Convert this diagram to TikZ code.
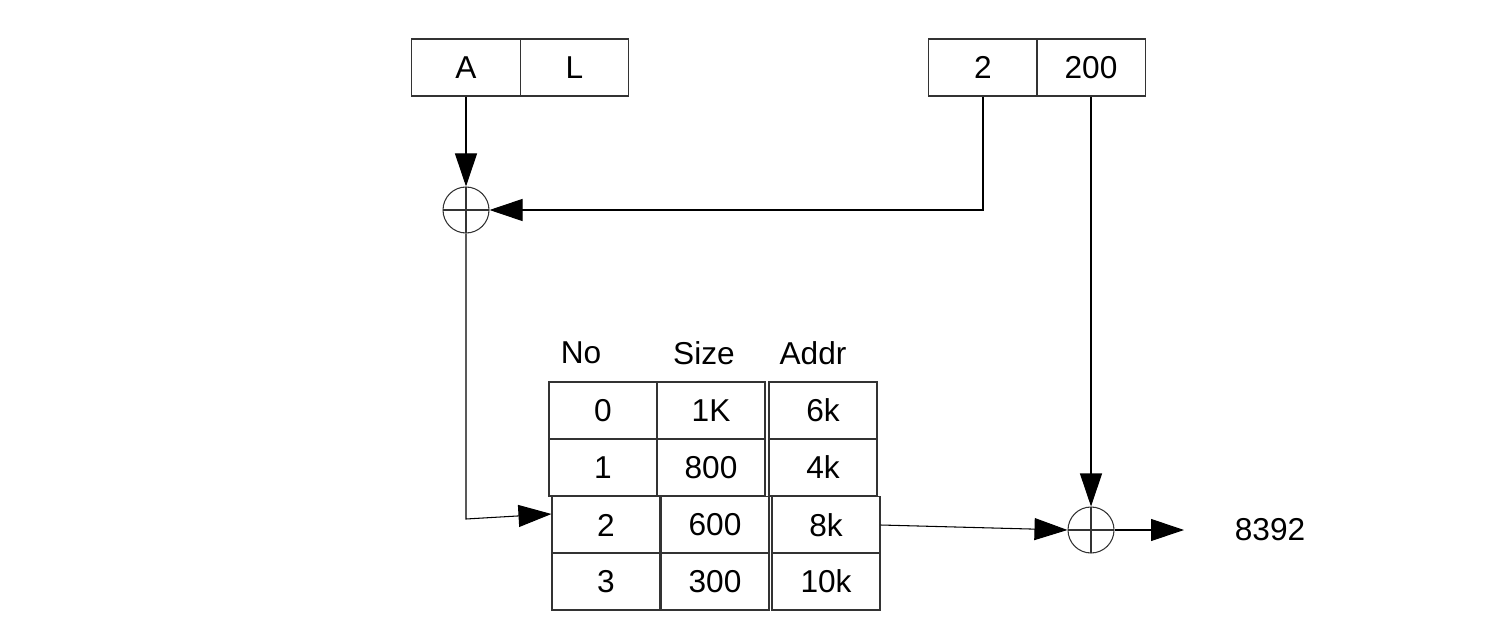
\documentclass[tikz,border=0pt]{standalone}
\usepackage{fontspec}
\setmainfont{Liberation Sans}
\usepackage{tikz}
\usetikzlibrary{arrows.meta, positioning, calc}

\begin{document}
\begin{tikzpicture}[
    every node/.style={font=\fontsize{18}{21}\selectfont},
    cell/.style={draw=black!80, line width=0.6pt, minimum width=2.16cm, minimum height=1.14cm, inner sep=0pt},
    seg/.style={cell, minimum width=2.17cm},
    adder/.style={circle, draw=black!80, line width=0.6pt, minimum size=0.92cm, inner sep=0pt,
      path picture={\draw[black!80, line width=0.6pt]
        (path picture bounding box.north) -- (path picture bounding box.south)
        (path picture bounding box.west) -- (path picture bounding box.east);}},
    arr/.style={-{Triangle[length=0.66cm, width=0.44cm]}, line width=0.6pt}
  ]
  \useasboundingbox (0,0) rectangle (29.96,12.72);

  %% Logical address registers
  \node[seg] (segA) at (9.32,11.37) {A};
  \node[seg] (segL) at (11.49,11.37) {L};
  \node[seg] (seg2) at (19.66,11.37) {2};
  \node[seg] (off200) at (21.82,11.37) {200};

  %% Adders
  \node[adder] (add1) at (9.32,8.52) {};
  \node[adder] (add2) at (21.82,2.12) {};

  %% Segment table header
  \node (hNo) at (11.62,5.66) {No};
  \node (hSize) at (14.08,5.66) {Size};
  \node (hAddr) at (16.26,5.66) {Addr};

  %% Segment table rows
  \node[cell] (c00) at (12.06,4.51) {0};
  \node[cell] (c01) at (14.22,4.51) {1K};
  \node[cell] (c02) at (16.46,4.51) {6k};
  \node[cell] (c10) at (12.06,3.37) {1};
  \node[cell] (c11) at (14.22,3.37) {800};
  \node[cell] (c12) at (16.46,3.37) {4k};
  \node[cell] (c20) at (12.12,2.22) {2};
  \node[cell] (c21) at (14.30,2.22) {600};
  \node[cell] (c22) at (16.52,2.22) {8k};
  \node[cell] (c30) at (12.12,1.09) {3};
  \node[cell] (c31) at (14.30,1.09) {300};
  \node[cell] (c32) at (16.52,1.09) {10k};

  %% Result
  \coordinate (out) at (23.68,2.12);
  \node (phys) at (25.4,2.12) {8392};

  %% Connections
  \draw[arr] (segA.south) -- (add1.north);
  \draw[arr] (seg2.south) |- (add1.east);
  \coordinate (bend) at (9.32,2.34);
  \draw[arr] (add1.south) -- (bend) -- ([yshift=0.22cm]c20.west);
  \draw[arr] (off200.south) -- (add2.north);
  \draw[arr] (c22.east) -- (add2.west);
  \draw[arr] (add2.east) -- (out);
\end{tikzpicture}
\end{document}
